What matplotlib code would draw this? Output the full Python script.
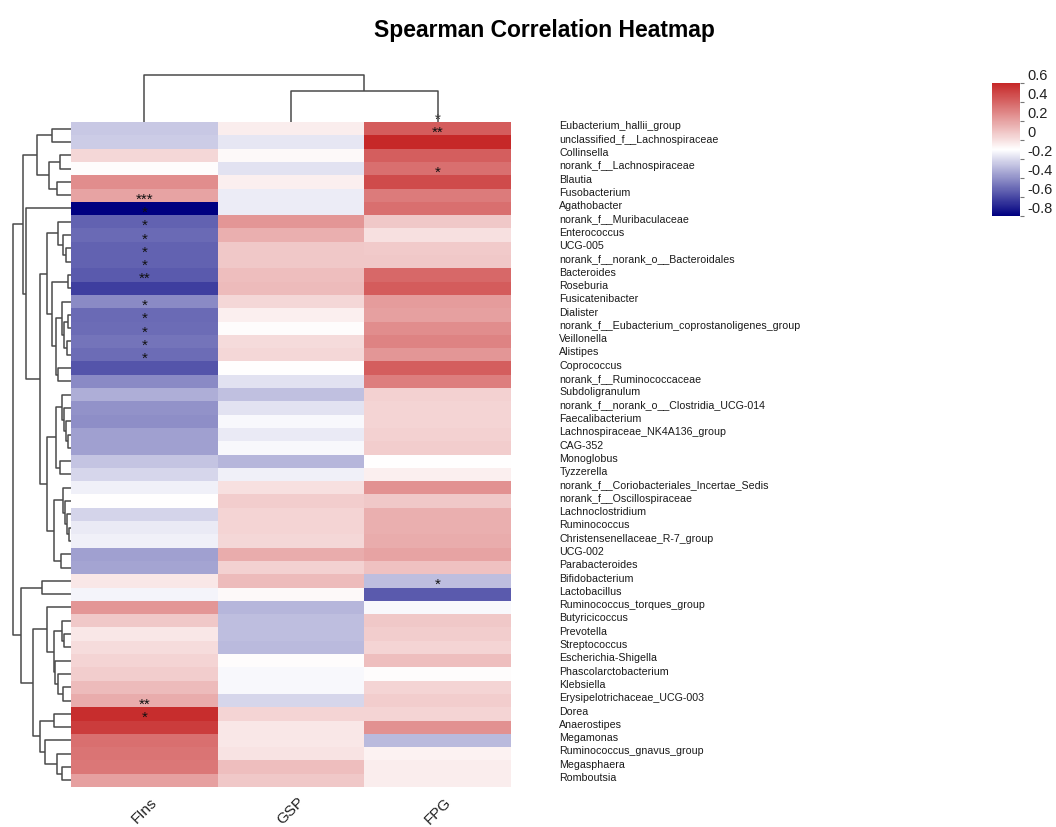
import numpy as np
import matplotlib
matplotlib.use("Agg")
import matplotlib.pyplot as plt
from matplotlib.colors import LinearSegmentedColormap, Normalize
from matplotlib.cm import ScalarMappable

plt.rcParams["font.family"] = ["Liberation Sans", "DejaVu Sans"]
plt.rcParams["axes.unicode_minus"] = False

taxa = [
    "Eubacterium_hallii_group", "unclassified_f__Lachnospiraceae", "Collinsella",
    "norank_f__Lachnospiraceae", "Blautia", "Fusobacterium", "Agathobacter",
    "norank_f__Muribaculaceae", "Enterococcus", "UCG-005",
    "norank_f__norank_o__Bacteroidales", "Bacteroides", "Roseburia",
    "Fusicatenibacter", "Dialister", "norank_f__Eubacterium_coprostanoligenes_group",
    "Veillonella", "Alistipes", "Coprococcus", "norank_f__Ruminococcaceae",
    "Subdoligranulum", "norank_f__norank_o__Clostridia_UCG-014", "Faecalibacterium",
    "Lachnospiraceae_NK4A136_group", "CAG-352", "Monoglobus", "Tyzzerella",
    "norank_f__Coriobacteriales_Incertae_Sedis", "norank_f__Oscillospiraceae",
    "Lachnoclostridium", "Ruminococcus", "Christensenellaceae_R-7_group", "UCG-002",
    "Parabacteroides", "Bifidobacterium", "Lactobacillus", "Ruminococcus_torques_group",
    "Butyricicoccus", "Prevotella", "Streptococcus", "Escherichia-Shigella",
    "Phascolarctobacterium", "Klebsiella", "Erysipelotrichaceae_UCG-003", "Dorea",
    "Anaerostipes", "Megamonas", "Ruminococcus_gnavus_group", "Megasphaera",
    "Romboutsia",
]
traits = ["FIns", "GSP", "FPG"]

# spearman rho per taxon
fins = [-0.25, -0.24, 0.03, -0.09, 0.27, 0.20, -0.80, -0.53, -0.51, -0.53,
        -0.53, -0.55, -0.63, -0.42, -0.51, -0.50, -0.48, -0.50, -0.57, -0.42,
        -0.32, -0.40, -0.41, -0.36, -0.36, -0.26, -0.21, -0.14, -0.10, -0.22,
        -0.16, -0.14, -0.36, -0.35, -0.02, -0.13, 0.24, 0.08, -0.02, 0.01,
        0.04, 0.06, 0.12, 0.17, 0.58, 0.53, 0.37, 0.35, 0.34, 0.21]
gsp = [-0.04, -0.17, -0.08, -0.18, -0.05, -0.15, -0.15, 0.24, 0.16, 0.08,
       0.08, 0.11, 0.12, 0.03, -0.05, -0.09, 0.02, 0.03, -0.10, -0.18,
       -0.27, -0.18, -0.12, -0.16, -0.12, -0.30, -0.14, 0.00, 0.06, 0.04,
       0.04, 0.03, 0.17, 0.05, 0.12, -0.08, -0.30, -0.28, -0.28, -0.29,
       -0.09, -0.12, -0.12, -0.21, 0.04, -0.02, -0.02, -0.01, 0.11, 0.08]
fpg = [0.43, 0.60, 0.42, 0.37, 0.48, 0.33, 0.37, 0.08, 0.00, 0.07,
       0.08, 0.39, 0.43, 0.22, 0.21, 0.27, 0.30, 0.24, 0.42, 0.32,
       0.05, 0.04, 0.04, 0.05, 0.06, -0.10, -0.05, 0.26, 0.08, 0.16,
       0.16, 0.17, 0.20, 0.10, -0.28, -0.55, -0.12, 0.08, 0.06, 0.04,
       0.11, -0.09, 0.04, 0.06, 0.04, 0.26, -0.29, -0.06, -0.04, -0.04]

# significance marks, row index -> label
fins_sig = {6: "***", 7: "*", 8: "*", 9: "*", 10: "*", 11: "*", 12: "**",
            14: "*", 15: "*", 16: "*", 17: "*", 18: "*", 44: "**", 45: "*"}
gsp_sig = {}
fpg_sig = {0: "*", 1: "**", 4: "*", 35: "*"}

# clustering trees: (height, left, right), leaves are row / column indices
row_tree = (1.0,
    (0.83,
        (0.58, (0.33, 0, 1), (0.38, (0.19, 2, 3), (0.24, 4, 5))),
        (0.77, 6,
            (0.53,
                (0.42,
                    (0.22, 7, (0.14, 8, (0.09, 9, 10))),
                    (0.33, (0.05, 11, 12),
                        (0.25, (0.15, 13, (0.12, (0.05, 14, 15), (0.07, 16, 17))),
                               (0.22, 18, 19)))),
                (0.42,
                    (0.25, (0.15, 20, (0.12, 21, (0.09, 22, (0.05, 23, 24)))),
                           (0.19, 25, 26)),
                    (0.30, (0.14, 27, (0.10, 28, (0.07, 29, (0.03, 30, 31)))),
                           (0.18, 32, 33)))))),
    (0.86,
        (0.49, 34, 35),
        (0.65,
            (0.42, 36,
                (0.30, (0.15, 37, (0.12, 38, 39)),
                       (0.27, 40, (0.22, 41, (0.14, 42, 43))))),
            (0.53, (0.30, 44, 45),
                   (0.45, 46, (0.24, 47, (0.15, 48, 49)))))))
col_tree = (1.0, 0, (0.67, 1, 2))

W, H = 1056, 827
LINE = "#4a4a4a"


def px_box(x0, y0, x1, y1):
    return [x0 / W, 1 - y1 / H, (x1 - x0) / W, (y1 - y0) / H]


def draw_tree(ax, node, side):
    if isinstance(node, int):
        return node + 0.5, 0.0
    h, a, b = node
    pa, ha = draw_tree(ax, a, side)
    pb, hb = draw_tree(ax, b, side)
    if side == "left":
        ax.plot([ha, h, h, hb], [pa, pa, pb, pb], color=LINE, lw=1.1,
                clip_on=False, solid_capstyle="butt")
    else:
        ax.plot([pa, pa, pb, pb], [ha, h, h, hb], color=LINE, lw=1.1,
                clip_on=False, solid_capstyle="butt")
    return (pa + pb) / 2, h


cmap = LinearSegmentedColormap.from_list("rho", ["#000080", "#FFFFFF", "#C62828"])
norm = Normalize(vmin=-0.8, vmax=0.6)
mat = np.column_stack([fins, gsp, fpg])
n = len(taxa)

fig = plt.figure(figsize=(W / 100, H / 100), dpi=100)

# heatmap
ax = fig.add_axes(px_box(71, 122, 511, 787))
ax.pcolormesh(np.arange(4), np.arange(n + 1), mat, cmap=cmap, norm=norm)
ax.set_xlim(0, 3)
ax.set_ylim(n, 0)
ax.axis("off")

for j, sig in enumerate([fins_sig, gsp_sig, fpg_sig]):
    for i, s in sig.items():
        ax.text(j + 0.5, i + 0.12, s, ha="center", va="baseline",
                fontsize=11, color="#111111", clip_on=False)

for i, name in enumerate(taxa):
    ax.text(3.33, i + 0.55, name, ha="left", va="baseline",
            fontsize=7.7, color="#1a1a1a")

for j, t in enumerate(traits):
    ax.text(j + 0.5, n + 1.8, t, rotation=45, ha="center", va="center",
            fontsize=11, color="#222222")

# row dendrogram
axr = fig.add_axes(px_box(12.7, 122, 71, 787))
draw_tree(axr, row_tree, "left")
axr.set_xlim(1.0, 0)
axr.set_ylim(n, 0)
axr.axis("off")

# column dendrogram
axc = fig.add_axes(px_box(71, 75, 511, 122))
draw_tree(axc, col_tree, "top")
axc.set_xlim(0, 3)
axc.set_ylim(0, 1.0)
axc.axis("off")

# colour key
cax = fig.add_axes(px_box(992, 83, 1020, 216))
ticks = [0.6, 0.4, 0.2, 0, -0.2, -0.4, -0.6, -0.8]
cb = fig.colorbar(ScalarMappable(norm=norm, cmap=cmap), cax=cax, ticks=ticks)
cb.outline.set_visible(False)
cb.ax.set_yticklabels(["0.6", "0.4", "0.2", "0", "-0.2", "-0.4", "-0.6", "-0.8"])
cb.ax.tick_params(length=3, width=0.8, color="#777777", labelsize=10.5,
                  labelcolor="#222222", pad=2)
for lab in cb.ax.get_yticklabels():
    lab.set_va("bottom")

fig.text(544 / W, 1 - 31 / H, "Spearman Correlation Heatmap", ha="center",
         va="center", fontsize=16.5, fontweight="bold")

fig.savefig("out.png", dpi=100)
